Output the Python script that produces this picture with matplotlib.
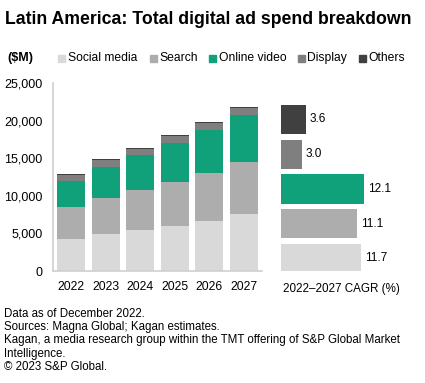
import matplotlib
matplotlib.use("Agg")
import matplotlib.pyplot as plt
from matplotlib.patches import Rectangle

plt.rcParams['font.family'] = ['Liberation Sans', 'DejaVu Sans']

years = ["2022", "2023", "2024", "2025", "2026", "2027"]
series_names = ["Social media", "Search", "Online video", "Display", "Others"]
social = [4290, 4910, 5400, 5970, 6640, 7520]
search = [4160, 4780, 5310, 5800, 6410, 7040]
video = [3500, 4200, 4690, 5270, 5760, 6190]
display = [820, 850, 870, 890, 910, 950]
others = [110, 115, 120, 125, 130, 130]
cagr = [11.7, 11.1, 12.1, 3.0, 3.6]
cagr_labels = ["11.7", "11.1", "12.1", "3.0", "3.6"]
yticks = [0, 5000, 10000, 15000, 20000, 25000]
ytick_labels = ["0", "5,000", "10,000", "15,000", "20,000", "25,000"]

colors = ["#d9d9d9", "#adadad", "#10a07a", "#7f7f7f", "#404040"]

W, H = 425, 383
fig = plt.figure(figsize=(W / 100, H / 100), dpi=100)

def ax_rect(x0, y0, x1, y1):
    return [x0 / W, 1 - y1 / H, (x1 - x0) / W, (y1 - y0) / H]

# Main stacked bar chart
ax = fig.add_axes(ax_rect(53, 83, 262, 271))
series = [social, search, video, display, others]
bottom = [0] * len(years)
xs = list(range(len(years)))
for vals, col in zip(series, colors):
    ax.bar(xs, vals, bottom=bottom, width=0.81, color=col, edgecolor='none')
    bottom = [b + v for b, v in zip(bottom, vals)]
ax.set_xlim(-0.52, 5.52)
ax.set_ylim(0, 25000)
ax.set_yticks(yticks)
ax.set_yticklabels(ytick_labels, fontsize=9)
ax.set_xticks(xs)
ax.set_xticklabels(years, fontsize=8.8)
ax.tick_params(length=0)
ax.tick_params(axis='x', pad=7)
ax.tick_params(axis='y', pad=7.5)
for s in ['top', 'right']:
    ax.spines[s].set_visible(False)
for s in ['left', 'bottom']:
    ax.spines[s].set_color('#d0d0d0')
    ax.spines[s].set_linewidth(1.2)

# CAGR horizontal bars
ax2 = fig.add_axes(ax_rect(281, 83, 377, 271))
ys = list(range(len(cagr)))
ax2.barh(ys, cagr, height=0.84, color=colors, edgecolor='none')
for y, v, lab in zip(ys, cagr, cagr_labels):
    ax2.text(v + 0.6, y, lab, va='center', ha='left', fontsize=8.5)
ax2.set_xlim(0, 14)
ax2.set_ylim(-0.36, 5.05)
ax2.axis('off')
fig.text(283 / W, 1 - 289 / H, "2022\u20132027 CAGR (%)", fontsize=8.4, va='center', ha='left')

# Title
fig.text(5 / W, 1 - 19 / H, "Latin America: Total digital ad spend breakdown",
         fontsize=12.7, fontweight='bold', va='center', ha='left')

# Legend row
fig.text(7 / W, 1 - 58 / H, "($M)", fontsize=9, fontweight='bold', va='center', ha='left')
leg_x = [58, 150, 209, 298, 359]
for name, col, lx in zip(series_names, colors, leg_x):
    fig.patches.append(Rectangle((lx / W, 1 - 61.5 / H), 7 / W, 7 / H, transform=fig.transFigure,
                                 color=col, figure=fig))
    fig.text((lx + 9.5) / W, 1 - 58 / H, name, fontsize=8.7, va='center', ha='left')

# Footnotes
notes = ["Data as of December 2022.",
         "Sources: Magna Global; Kagan estimates.",
         "Kagan, a media research group within the TMT offering of S&P Global Market",
         "Intelligence.",
         "\u00a9 2023 S&P Global."]
for i, n in enumerate(notes):
    fig.text(4 / W, 1 - (314 + i * 13.2) / H, n, fontsize=8.3, va='center', ha='left')

fig.savefig("out.png", dpi=100)
